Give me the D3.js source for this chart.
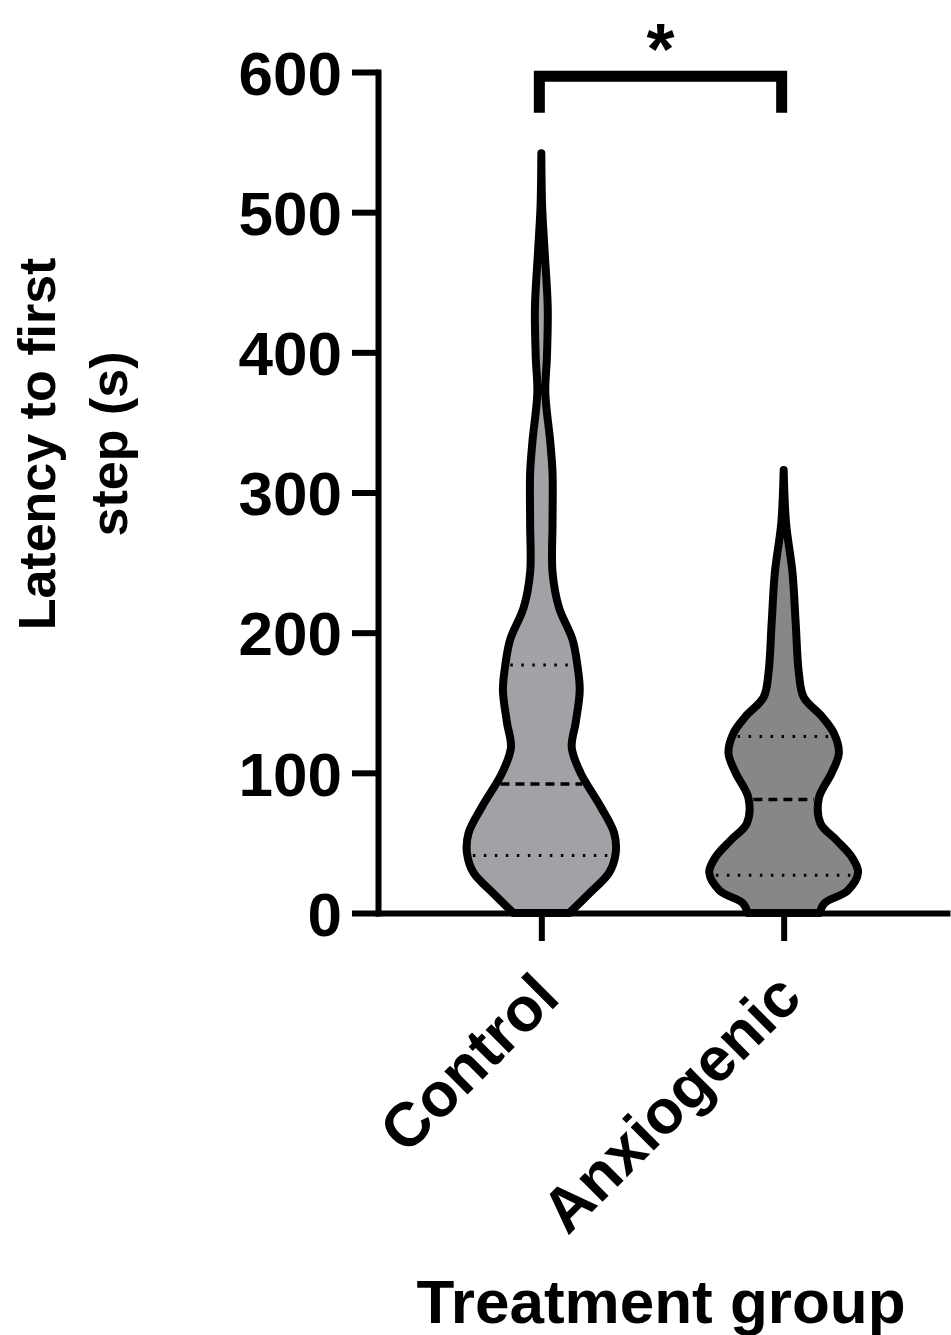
<!DOCTYPE html>
<html>
<head>
<meta charset="utf-8">
<script src="https://cdn.jsdelivr.net/npm/d3@7"></script>
<style>
  body { margin: 0; background: #fff; }
  text { font-family: "Liberation Sans", Arial, sans-serif; font-weight: bold; fill: #000; }
</style>
</head>
<body>
<div id="adiv"></div>
<script>
// groups and y ticks
var groups = ["Control", "Anxiogenic"];
var yTicks = [0, 100, 200, 300, 400, 500, 600];

// violin outlines: value (s) and relative density (0-100)
var controlValues  = [0, 14, 29, 43, 57, 76, 100, 118, 136, 159, 177, 195, 218, 243, 278, 314, 337, 371, 397, 432, 473, 504, 542];
var controlDensity = [35, 60, 85, 93, 91, 74, 49, 38, 43, 48, 45, 39, 22, 14, 14, 14, 11, 5, 7, 8, 4, 1, 0];

var anxioValues  = [0, 7, 16, 29, 40, 52, 64, 82, 100, 114, 128, 140, 154, 171, 207, 243, 278, 316];
var anxioDensity = [45, 51, 80, 93, 85, 66, 46, 44, 60, 69, 63, 48, 25, 19, 15, 11, 3, 0];

// quartiles: lower, median, upper
var controlQuart = [41, 92, 177];
var anxioQuart   = [27, 81, 126];

var fills = ["#a2a2a6", "#878787"];

// significance bracket
var sigFrom = "Control", sigTo = "Anxiogenic", sigLevel = 597, sigLegEnd = 571, sigLabel = "*";

var width = 951, height = 1335;

var sVg = d3.select("#adiv").append("svg")
  .attr("width", width)
  .attr("height", height);

var y = d3.scaleLinear().domain([0, 600]).range([913, 72]);
var x = d3.scalePoint().domain(groups).range([378, 947]).padding(0.674);
var w = d3.scaleLinear().domain([0, 100]).range([0, 80]);

var sets = [
  { name: "Control", values: controlValues, dens: controlDensity, q: controlQuart, fill: fills[0] },
  { name: "Anxiogenic", values: anxioValues, dens: anxioDensity, q: anxioQuart, fill: fills[1] }
];

sets.forEach(function(s) {
  var cx = x(s.name);
  var pts = s.values.map(function(v, i) { return { v: v, d: s.dens[i] }; });

  sVg.append("path")
    .datum(pts)
    .attr("fill", s.fill)
    .attr("stroke", "#000")
    .attr("stroke-width", 8)
    .attr("stroke-linejoin", "round")
    .attr("d", d3.area()
      .y(function(d) { return y(d.v); })
      .x0(function(d) { return cx - w(d.d); })
      .x1(function(d) { return cx + w(d.d); })
      .curve(d3.curveCatmullRom.alpha(0.5)));

  // quartile lines
  var interp = d3.scaleLinear().domain(s.values).range(s.dens);
  s.q.forEach(function(qv, i) {
    var hw = w(interp(qv)) - 5;
    sVg.append("line")
      .attr("x1", cx - hw).attr("x2", cx + hw)
      .attr("y1", y(qv)).attr("y2", y(qv))
      .attr("stroke", "#000")
      .attr("stroke-width", i == 1 ? 3.5 : 3)
      .attr("stroke-dasharray", i == 1 ? "9,6" : "2.5,8.5");
  });
});

// axes
var yAxis = sVg.append("g")
  .attr("transform", "translate(378,0)")
  .call(d3.axisLeft(y).tickValues(yTicks).tickSize(26).tickSizeOuter(0).tickPadding(10));

var xAxis = sVg.append("g")
  .attr("transform", "translate(0,913)")
  .call(d3.axisBottom(x).tickSize(28).tickSizeOuter(0));

[yAxis, xAxis].forEach(function(g) {
  g.select(".domain").attr("stroke", "#000").attr("stroke-width", 6).attr("stroke-linecap", "square");
  g.selectAll(".tick line").attr("stroke", "#000").attr("stroke-width", 6);
});

yAxis.selectAll(".tick text")
  .attr("font-size", 62)
  .attr("font-family", null)
  .attr("dy", "0.36em");

xAxis.selectAll(".tick text")
  .attr("font-size", 62)
  .attr("font-family", null)
  .attr("text-anchor", "end")
  .attr("y", 0).attr("dy", 0)
  .attr("transform", "translate(20,87) rotate(-45)");

// axis titles
var yTitle = ["Latency to first", "step (s)"];
yTitle.forEach(function(t, i) {
  sVg.append("text")
    .attr("transform", "translate(" + (55 + i * 72) + ",444) rotate(-90)")
    .attr("text-anchor", "middle")
    .attr("font-size", 52)
    .text(t);
});

sVg.append("text")
  .attr("x", 661).attr("y", 1323)
  .attr("text-anchor", "middle")
  .attr("font-size", 62)
  .text("Treatment group");

// significance bracket
var bx0 = x(sigFrom) - 2, bx1 = x(sigTo) - 2;
sVg.append("path")
  .attr("fill", "none")
  .attr("stroke", "#000")
  .attr("stroke-width", 11)
  .attr("stroke-linejoin", "miter")
  .attr("d", "M" + bx0 + "," + y(sigLegEnd) + "V" + y(sigLevel) + "H" + bx1 + "V" + y(sigLegEnd));

sVg.append("text")
  .attr("x", (bx0 + bx1) / 2)
  .attr("y", 74)
  .attr("text-anchor", "middle")
  .attr("font-size", 72)
  .text(sigLabel);
</script>
</body>
</html>
